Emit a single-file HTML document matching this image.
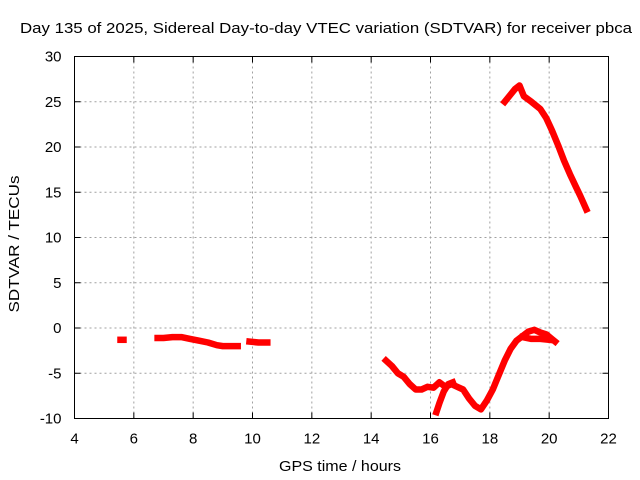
<!DOCTYPE html>
<html><head><meta charset="utf-8"><style>
html,body{margin:0;padding:0;background:#fff;}
svg{display:block;font-family:"Liberation Sans",sans-serif;}
</style></head><body>
<svg id="chart" width="640" height="480" viewBox="0 0 640 480">
<text x="326" y="33" font-size="15" textLength="612" lengthAdjust="spacingAndGlyphs" text-anchor="middle" fill="#000">Day 135 of 2025, Sidereal Day-to-day VTEC variation (SDTVAR) for receiver pbca</text>
<g id="grid"></g>
<g id="ticks"></g>
<g id="series"></g>
<rect x="74.5" y="56.5" width="534" height="362" fill="none" stroke="#000" stroke-width="1"/>
<text x="340" y="471" font-size="15" textLength="122" lengthAdjust="spacingAndGlyphs" text-anchor="middle">GPS time / hours</text>
<text transform="translate(19,244) rotate(-90)" font-size="15" textLength="137" lengthAdjust="spacingAndGlyphs" text-anchor="middle">SDTVAR / TECUs</text>
</svg>
<script>
const xTicks=[4,6,8,10,12,14,16,18,20,22];
const yTicks=[-10,-5,0,5,10,15,20,25,30];
const seg1X=[5.55,5.65];
const seg1Y=[-1.3,-1.3];
const seg2X=[6.8,7.0,7.3,7.6,7.9,8.2,8.5,8.8,9.0,9.3,9.5];
const seg2Y=[-1.1,-1.1,-1.0,-1.0,-1.2,-1.4,-1.6,-1.9,-2.0,-2.0,-2.0];
const seg3X=[9.9,10.2,10.5];
const seg3Y=[-1.5,-1.6,-1.6];
const seg4X=[14.5,14.7,14.9,15.1,15.3,15.5,15.7,15.9,16.1,16.3,16.5,16.7,16.9,17.1,17.3,17.5,17.7,17.9,18.1,18.3,18.5,18.7,18.9,19.1,19.3,19.5,19.7,19.9,20.05,20.2];
const seg4Y=[-3.6,-4.2,-5.0,-5.4,-6.2,-6.8,-6.8,-6.5,-6.6,-6.0,-6.5,-6.2,-6.5,-6.8,-7.8,-8.6,-9.0,-8.0,-6.8,-5.2,-3.6,-2.3,-1.4,-0.9,-0.4,-0.2,-0.5,-0.7,-1.1,-1.5];
const seg5X=[16.2,16.3,16.45,16.6,16.75];
const seg5Y=[-9.3,-8.3,-7.0,-6.2,-6.0];
const seg6X=[19.1,19.4,19.7,20.0];
const seg6Y=[-1.0,-1.2,-1.2,-1.3];
const seg7X=[18.5,18.7,18.85,19.0,19.15,19.4,19.7,19.9,20.1,20.3,20.5,20.7,20.9,21.05,21.25];
const seg7Y=[25.0,25.8,26.4,26.8,25.6,25.0,24.2,23.2,21.8,20.2,18.5,17.0,15.6,14.6,13.1];
const X0=74.5,X1=608.5,Y0=418.5,Y1=56.5;
function sx(v){return X0+(v-4)/18*(X1-X0);}
function sy(v){return Y0-(v+10)/40*(Y0-Y1);}
const NS='http://www.w3.org/2000/svg';
const grid=document.getElementById('grid'),ticks=document.getElementById('ticks'),series=document.getElementById('series');
function mk(tag,attrs,parent){const e=document.createElementNS(NS,tag);for(const k in attrs)e.setAttribute(k,attrs[k]);parent.appendChild(e);return e;}
xTicks.forEach(t=>{
  const x=sx(t);
  if(t>4&&t<22){const g=mk('line',{x1:x,x2:x,y1:Y1,y2:Y0,stroke:'#a0a0a0','stroke-dasharray':'2,3'},grid);
  
  }
  const a=mk('line',{x1:x,x2:x,y1:Y0,y2:Y0-6,stroke:'#000'},ticks);
  
  
  const b=mk('line',{x1:x,x2:x,y1:Y1,y2:Y1+6,stroke:'#000'},ticks);
  
  
  const l=mk('text',{x:x,y:Y0+25,'font-size':15,'text-anchor':'middle'},ticks);l.textContent=t;
  
  
});
yTicks.forEach(t=>{
  const y=sy(t);
  if(t>-10&&t<30){const g=mk('line',{x1:X0,x2:X1,y1:y,y2:y,stroke:'#a0a0a0','stroke-dasharray':'2,3'},grid);
  
  }
  const a=mk('line',{x1:X0,x2:X0+6,y1:y,y2:y,stroke:'#000'},ticks);
  
  
  const b=mk('line',{x1:X1,x2:X1-6,y1:y,y2:y,stroke:'#000'},ticks);
  
  
  const l=mk('text',{x:X0-13,y:y+5,'font-size':15,'text-anchor':'end'},ticks);l.textContent=t;
  
  
});
[[seg1X,seg1Y],[seg2X,seg2Y],[seg3X,seg3Y],[seg4X,seg4Y],[seg5X,seg5Y],[seg6X,seg6Y],[seg7X,seg7Y]].forEach((s,i)=>{
  const pts=s[0].map((x,j)=>sx(x).toFixed(1)+','+sy(s[1][j]).toFixed(1)).join(' ');
  const p=mk('polyline',{points:pts,fill:'none',stroke:'#ff0000','stroke-width':6.5,'stroke-linejoin':'round','stroke-linecap':'square'},series);
  
  
});
</script>
</body></html>
